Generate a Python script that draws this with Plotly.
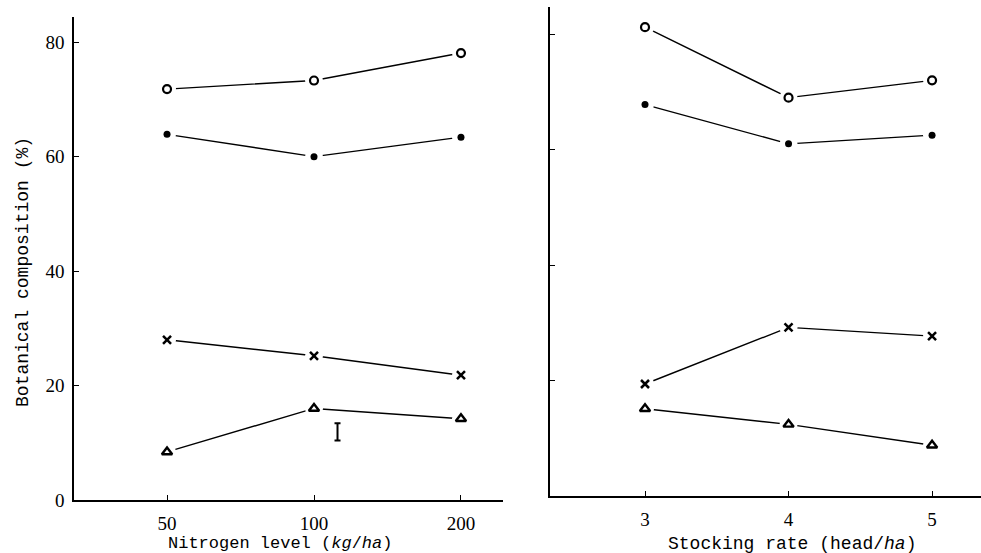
import plotly.graph_objects as go

# ---- data ----
nitrogen_labels = ["50", "100", "200"]
stocking_rates = [3, 4, 5]
y_ticks = [0, 20, 40, 60, 80]

open_circle_n = [71.8, 73.3, 78.1]
filled_circle_n = [63.9, 60.0, 63.4]
cross_n = [28.0, 25.2, 21.8]
triangle_n = [8.4, 16.0, 14.2]

open_circle_s = [81.2, 69.0, 72.0]
filled_circle_s = [67.8, 61.0, 62.5]
cross_s = [19.4, 29.2, 27.7]
triangle_s = [15.1, 12.4, 8.8]

lsd_center = 11.9
lsd_half = 1.5

# ---- figure ----
W, H = 981, 553
fig = go.Figure()
nx = list(range(len(nitrogen_labels)))

series = [
    (open_circle_n, open_circle_s, dict(symbol="circle", size=8, color="white",
                                        line=dict(color="black", width=2.2))),
    (filled_circle_n, filled_circle_s, dict(symbol="circle", size=7, color="black",
                                            line=dict(color="black", width=0))),
    (cross_n, cross_s, dict(symbol="x-thin", size=8, color="black",
                            line=dict(color="black", width=2.5))),
    (triangle_n, triangle_s, dict(symbol="triangle-up", size=9, color="white",
                                  line=dict(color="black", width=2.4))),
]

for yn, ys, mk in series:
    for xv, yv, xa, ya in ((nx, yn, "x", "y"), (stocking_rates, ys, "x2", "y2")):
        fig.add_trace(go.Scatter(x=xv, y=yv, mode="lines", xaxis=xa, yaxis=ya,
                                 line=dict(color="black", width=1.4),
                                 hoverinfo="skip", showlegend=False))
        fig.add_trace(go.Scatter(x=xv, y=yv, mode="markers", xaxis=xa, yaxis=ya,
                                 marker=dict(symbol="circle", size=18, color="white"),
                                 hoverinfo="skip", showlegend=False))
        fig.add_trace(go.Scatter(x=xv, y=yv, mode="markers", xaxis=xa, yaxis=ya,
                                 marker=mk, showlegend=False))

# LSD bar
fig.add_trace(go.Scatter(x=[1.16], y=[lsd_center], mode="markers", xaxis="x", yaxis="y",
                         marker=dict(size=1, color="black"),
                         error_y=dict(type="constant", value=lsd_half, color="black",
                                      thickness=2, width=3),
                         showlegend=False))

tick_font = dict(family="Liberation Serif", size=19, color="black")
common_axis = dict(showline=True, linecolor="black", linewidth=1.5, ticks="inside",
                   tickcolor="black", ticklen=5, tickwidth=1.3, showgrid=False,
                   zeroline=False, tickfont=tick_font, automargin=False)

def px_x(p):
    return p / W

def px_y(p):
    return (H - p) / H

fig.update_layout(
    width=W, height=H, margin=dict(l=0, r=0, t=0, b=0),
    paper_bgcolor="white", plot_bgcolor="white",
    xaxis=dict(domain=[px_x(74), px_x(503)], range=[-0.633, 2.286],
               tickvals=nx, ticktext=nitrogen_labels, anchor="y",
               ticklabelstandoff=5, **common_axis),
    yaxis=dict(domain=[px_y(500), px_y(17)], range=[0, 84.4], tickvals=y_ticks,
               anchor="x", ticklabelstandoff=4, **common_axis),
    xaxis2=dict(domain=[px_x(550), 1.0], range=[2.338, 5.341],
                tickvals=stocking_rates, anchor="y2",
                ticklabelstandoff=5, **common_axis),
    yaxis2=dict(domain=[px_y(496), px_y(7)], range=[0, 84.7], tickvals=y_ticks,
                anchor="x2", showticklabels=False, **common_axis),
)

title_font = dict(family="Liberation Mono", size=17, color="black")
fig.add_annotation(text="Botanical composition (%)", xref="paper", yref="paper",
                   x=px_x(23), y=px_y(272), textangle=-90, showarrow=False,
                   font=dict(family="Liberation Mono", size=18, color="black"),
                   xanchor="center", yanchor="middle")
fig.add_annotation(text="Nitrogen level (<i>kg</i>/<i>ha</i>)", xref="paper", yref="paper",
                   x=px_x(280), y=px_y(543), showarrow=False, font=title_font,
                   xanchor="center", yanchor="middle")
fig.add_annotation(text="Stocking rate (head/<i>ha</i>)", xref="paper", yref="paper",
                   x=px_x(792), y=px_y(544), showarrow=False,
                   font=dict(family="Liberation Mono", size=18, color="black"),
                   xanchor="center", yanchor="middle")

fig.write_html("out.html", config={"displayModeBar": False},
               post_script="document.body.style.margin='0';document.body.style.overflow='hidden';")
